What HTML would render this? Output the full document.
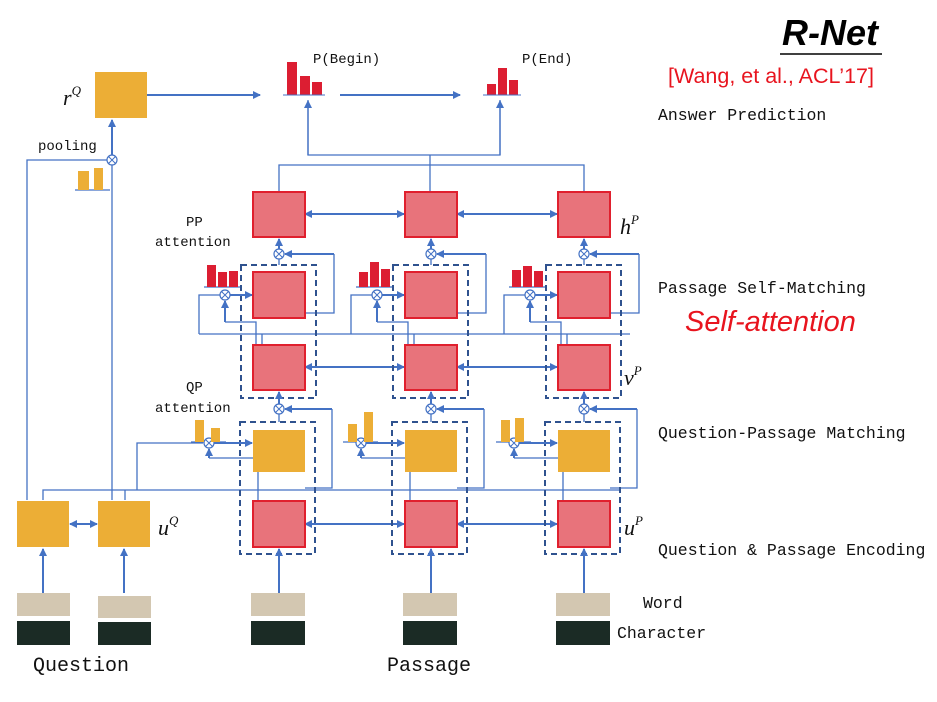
<!DOCTYPE html>
<html><head><meta charset="utf-8"><style>
body{margin:0;background:#fff}
</style></head><body>
<svg width="937" height="697" viewBox="0 0 937 697" xmlns="http://www.w3.org/2000/svg">
<defs>
<marker id="a" markerWidth="8" markerHeight="8" refX="7" refY="4" orient="auto" markerUnits="userSpaceOnUse"><path d="M0,0 L8,4 L0,8 z" fill="#4472c4"/></marker>
<marker id="b" markerWidth="8" markerHeight="8" refX="1" refY="4" orient="auto" markerUnits="userSpaceOnUse"><path d="M8,0 L0,4 L8,8 z" fill="#4472c4"/></marker>
<g id="cx"><circle r="5" fill="#fff" stroke="#4472c4" stroke-width="1.2"/><path d="M-3.5,-3.5L3.5,3.5M3.5,-3.5L-3.5,3.5" stroke="#4472c4" stroke-width="1"/></g>
</defs>
<g fill="none" stroke="#4472c4" stroke-width="1.3">
<line x1="147" y1="95" x2="260" y2="95" stroke-width="2" marker-end="url(#a)"/>
<line x1="340" y1="95" x2="460" y2="95" stroke-width="2" marker-end="url(#a)"/>
<polyline points="308,100 308,155 500,155 500,100"/>
<line x1="308" y1="155" x2="308" y2="101" marker-end="url(#a)"/>
<line x1="500" y1="155" x2="500" y2="101" marker-end="url(#a)"/>
<line x1="430" y1="155" x2="430" y2="192"/>
<polyline points="279,192 279,165 584,165 584,192"/>
<line x1="112" y1="155" x2="112" y2="120" stroke-width="2" marker-end="url(#a)"/>
<polyline points="27,500 27,160 107,160"/>
<line x1="112" y1="165" x2="112" y2="500"/>
<line x1="75" y1="190" x2="110" y2="190"/>
<line x1="70" y1="524" x2="97" y2="524" stroke-width="2" marker-start="url(#b)" marker-end="url(#a)"/>
<polyline points="43,500 43,490 620,490"/>
<line x1="125" y1="500" x2="125" y2="490"/>
<polyline points="137,490 137,443 203,443"/>
<line x1="43" y1="593" x2="43" y2="549" stroke-width="2" marker-end="url(#a)"/>
<line x1="124" y1="593" x2="124" y2="549" stroke-width="2" marker-end="url(#a)"/>
<line x1="305" y1="214" x2="404" y2="214" stroke-width="2" marker-start="url(#b)" marker-end="url(#a)"/>
<line x1="457" y1="214" x2="557" y2="214" stroke-width="2" marker-start="url(#b)" marker-end="url(#a)"/>
<line x1="305" y1="367" x2="404" y2="367" stroke-width="2" marker-start="url(#b)" marker-end="url(#a)"/>
<line x1="457" y1="367" x2="557" y2="367" stroke-width="2" marker-start="url(#b)" marker-end="url(#a)"/>
<line x1="305" y1="524" x2="404" y2="524" stroke-width="2" marker-start="url(#b)" marker-end="url(#a)"/>
<line x1="457" y1="524" x2="557" y2="524" stroke-width="2" marker-start="url(#b)" marker-end="url(#a)"/>
<line x1="199" y1="334" x2="630" y2="334"/>
</g>
<g id="col">
<g fill="none" stroke="#4472c4" stroke-width="1.3">
<line x1="279" y1="249" x2="279" y2="239" stroke-width="2" marker-end="url(#a)"/>
<line x1="279" y1="259" x2="279" y2="265"/>
<polyline points="305,313 334,313 334,254" />
<line x1="334" y1="254" x2="285" y2="254" stroke-width="2" marker-end="url(#a)"/>
<rect x="241" y="265" width="75" height="133" stroke="#2f528f" stroke-width="2" stroke-dasharray="6,4"/>
<line x1="230" y1="295" x2="252" y2="295" stroke-width="2" marker-end="url(#a)"/>
<polyline points="199,334 199,295 220,295"/>
<line x1="204" y1="287" x2="240" y2="287"/>
<polyline points="256,345 256,322 225,322"/>
<line x1="225" y1="322" x2="225" y2="301" stroke-width="2" marker-end="url(#a)"/>
<line x1="262" y1="345" x2="262" y2="334"/>
<line x1="279" y1="404" x2="279" y2="392" stroke-width="2" marker-end="url(#a)"/>
<line x1="279" y1="414" x2="279" y2="422"/>
<polyline points="305,488 332,488 332,409"/>
<line x1="332" y1="409" x2="285" y2="409" stroke-width="2" marker-end="url(#a)"/>
<rect x="240" y="422" width="75" height="132" stroke="#2f528f" stroke-width="2" stroke-dasharray="6,4"/>
<line x1="214" y1="443" x2="252" y2="443" stroke-width="2" marker-end="url(#a)"/>
<line x1="191" y1="442" x2="226" y2="442"/>
<polyline points="258,501 258,458 209,458"/>
<line x1="209" y1="458" x2="209" y2="449" stroke-width="2" marker-end="url(#a)"/>
<line x1="279" y1="593" x2="279" y2="549" stroke-width="2" marker-end="url(#a)"/>
</g>
<g fill="#e8737b" stroke="#e0202e" stroke-width="2">
<rect x="253" y="192" width="52" height="45"/>
<rect x="253" y="272" width="52" height="46"/>
<rect x="253" y="345" width="52" height="45"/>
<rect x="253" y="501" width="52" height="46"/>
</g>
<rect x="253" y="430" width="52" height="42" fill="#ecae36"/>
<use href="#cx" x="279" y="254"/><use href="#cx" x="225" y="295"/>
<use href="#cx" x="279" y="409"/><use href="#cx" x="209" y="443"/>
<rect x="251" y="593" width="54" height="23" fill="#d3c7b1"/>
<rect x="251" y="621" width="54" height="24" fill="#1b2b25"/>
</g>
<use href="#col" x="152"/>
<use href="#col" x="305"/>
<g fill="#dc1e32">
<rect x="207" y="265" width="9" height="22"/><rect x="218" y="272" width="9" height="15"/><rect x="229" y="271" width="9" height="16"/>
<rect x="359" y="272" width="9" height="15"/><rect x="370" y="262" width="9" height="25"/><rect x="381" y="269" width="9" height="18"/>
<rect x="512" y="270" width="9" height="17"/><rect x="523" y="266" width="9" height="21"/><rect x="534" y="271" width="9" height="16"/>
<rect x="287" y="62" width="10" height="33"/><rect x="300" y="76" width="10" height="19"/><rect x="312" y="82" width="10" height="13"/>
<rect x="487" y="84" width="9" height="11"/><rect x="498" y="68" width="9" height="27"/><rect x="509" y="80" width="9" height="15"/>
</g>
<line x1="283" y1="95" x2="325" y2="95" stroke="#4472c4"/><line x1="483" y1="95" x2="521" y2="95" stroke="#4472c4"/>
<g fill="#ecae36">
<rect x="78" y="171" width="11" height="19"/><rect x="94" y="168" width="9" height="22"/>
<rect x="195" y="420" width="9" height="22"/><rect x="211" y="428" width="9" height="14"/>
<rect x="348" y="424" width="9" height="18"/><rect x="364" y="412" width="9" height="30"/>
<rect x="501" y="420" width="9" height="22"/><rect x="515" y="418" width="9" height="24"/>
<rect x="95" y="72" width="52" height="46"/>
<rect x="17" y="501" width="52" height="46"/><rect x="98" y="501" width="52" height="46"/>
</g>
<use href="#cx" x="112" y="160"/>
<rect x="17" y="593" width="53" height="23" fill="#d3c7b1"/><rect x="17" y="621" width="53" height="24" fill="#1b2b25"/>
<rect x="98" y="596" width="53" height="22" fill="#d3c7b1"/><rect x="98" y="622" width="53" height="23" fill="#1b2b25"/>
<g font-family="Liberation Mono, monospace" fill="#111">
<g font-size="16.5">
<text x="658" y="120">Answer Prediction</text>
<text x="658" y="293">Passage Self-Matching</text>
<text x="658" y="438">Question-Passage Matching</text>
<text x="658" y="555">Question &amp; Passage Encoding</text>
<text x="643" y="608">Word</text>
<text x="617" y="638">Character</text>
</g>
<g font-size="20"><text x="33" y="671">Question</text><text x="387" y="671">Passage</text></g>
<g font-size="14">
<text x="313" y="63">P(Begin)</text><text x="522" y="63">P(End)</text>
<text x="38" y="150">pooling</text>
<text x="186" y="226">PP</text><text x="155" y="246">attention</text>
<text x="186" y="391">QP</text><text x="155" y="412">attention</text>
</g>
</g>
<text x="685" y="331" font-family="Liberation Sans, sans-serif" font-style="italic" font-size="29" fill="#e8141e">Self-attention</text>
<text x="782" y="45" font-family="Liberation Sans, sans-serif" font-style="italic" font-weight="bold" font-size="36" fill="#000">R-Net</text>
<line x1="780" y1="54" x2="882" y2="54" stroke="#000" stroke-width="1.5"/>
<text x="668" y="83" font-family="Liberation Sans, sans-serif" font-size="21.5" fill="#e8141e">[Wang, et al., ACL’17]</text>
<g font-family="Liberation Serif, serif" font-style="italic" font-size="22" fill="#111">
<text x="63" y="105">r<tspan font-size="13" dy="-10">Q</tspan></text>
<text x="620" y="234">h<tspan font-size="13" dy="-10">P</tspan></text>
<text x="624" y="385">v<tspan font-size="13" dy="-10">P</tspan></text>
<text x="158" y="535">u<tspan font-size="13" dy="-10">Q</tspan></text>
<text x="624" y="535">u<tspan font-size="13" dy="-10">P</tspan></text>
</g>
</svg>
</body></html>
